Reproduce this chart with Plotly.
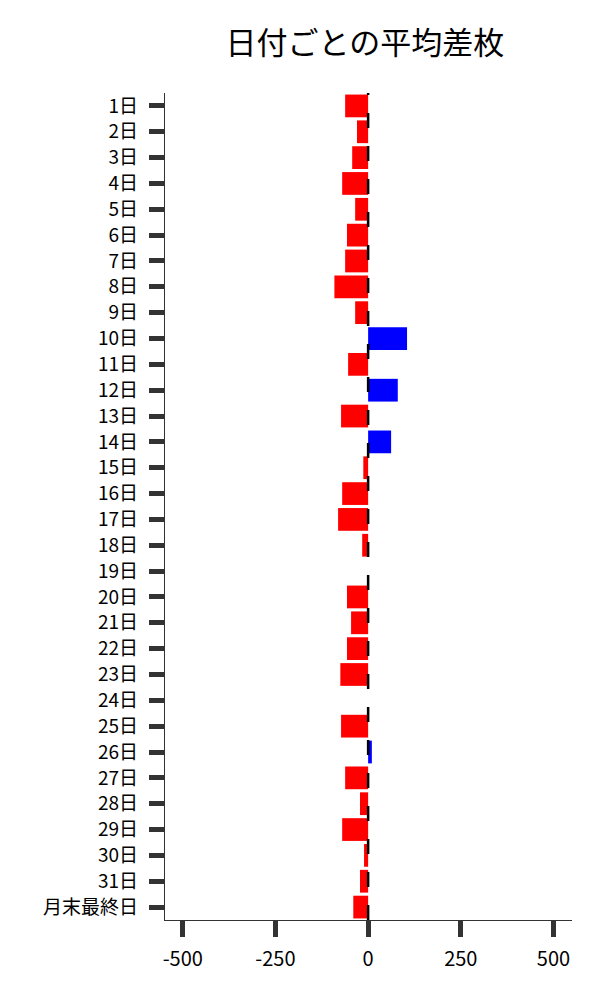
import plotly.graph_objects as go

# 日付ごとの平均差枚
days = [f"{i}日" for i in range(1, 32)] + ["月末最終日"]
diffs = [-62, -30, -43, -70, -35, -57, -62, -91, -35, 105,
         -54, 80, -73, 62, -13, -70, -81, -16, 0, -57,
         -46, -57, -75, 0, -73, 10, -62, -22, -70, -11,
         -22, -40]
colors = ["blue" if v > 0 else "red" for v in diffs]

fig = go.Figure()
fig.add_trace(go.Bar(x=diffs, y=days, orientation="h",
                     marker=dict(color=colors, line=dict(width=0))))

# 0 の位置に破線
fig.add_shape(type="line", xref="x", yref="paper", x0=0, x1=0, y0=0, y1=1,
              line=dict(color="black", width=2.5, dash="15px,18px"))

# ページ余白(8px)を差し引いたサイズ
fig.update_layout(
    title=dict(text="日付ごとの平均差枚", x=0.603, xanchor="center",
               y=0.965, yanchor="middle",
               font=dict(size=31, color="black")),
    font=dict(family="Noto Sans CJK JP", size=19, color="black"),
    width=592, height=992,
    margin=dict(l=157, r=28, t=85, b=80),
    plot_bgcolor="white", paper_bgcolor="white",
    bargap=0.12,
    showlegend=False,
)
fig.update_xaxes(range=[-548, 550], tickvals=[-500, -250, 0, 250, 500],
                 ticktext=["-500", "-250", "0", "250", "500"],
                 showgrid=False, zeroline=False, showline=True,
                 linecolor="#333", linewidth=1.2,
                 ticks="outside", ticklen=16, tickwidth=5, tickcolor="#333",
                 ticklabelstandoff=5, tickfont=dict(size=20))
fig.update_yaxes(autorange="reversed", showgrid=False, zeroline=False,
                 showline=True, linecolor="#333", linewidth=1.2,
                 ticks="outside", ticklen=15, tickwidth=5, tickcolor="#333",
                 ticklabelstandoff=7)

fig.write_html("out.html")
